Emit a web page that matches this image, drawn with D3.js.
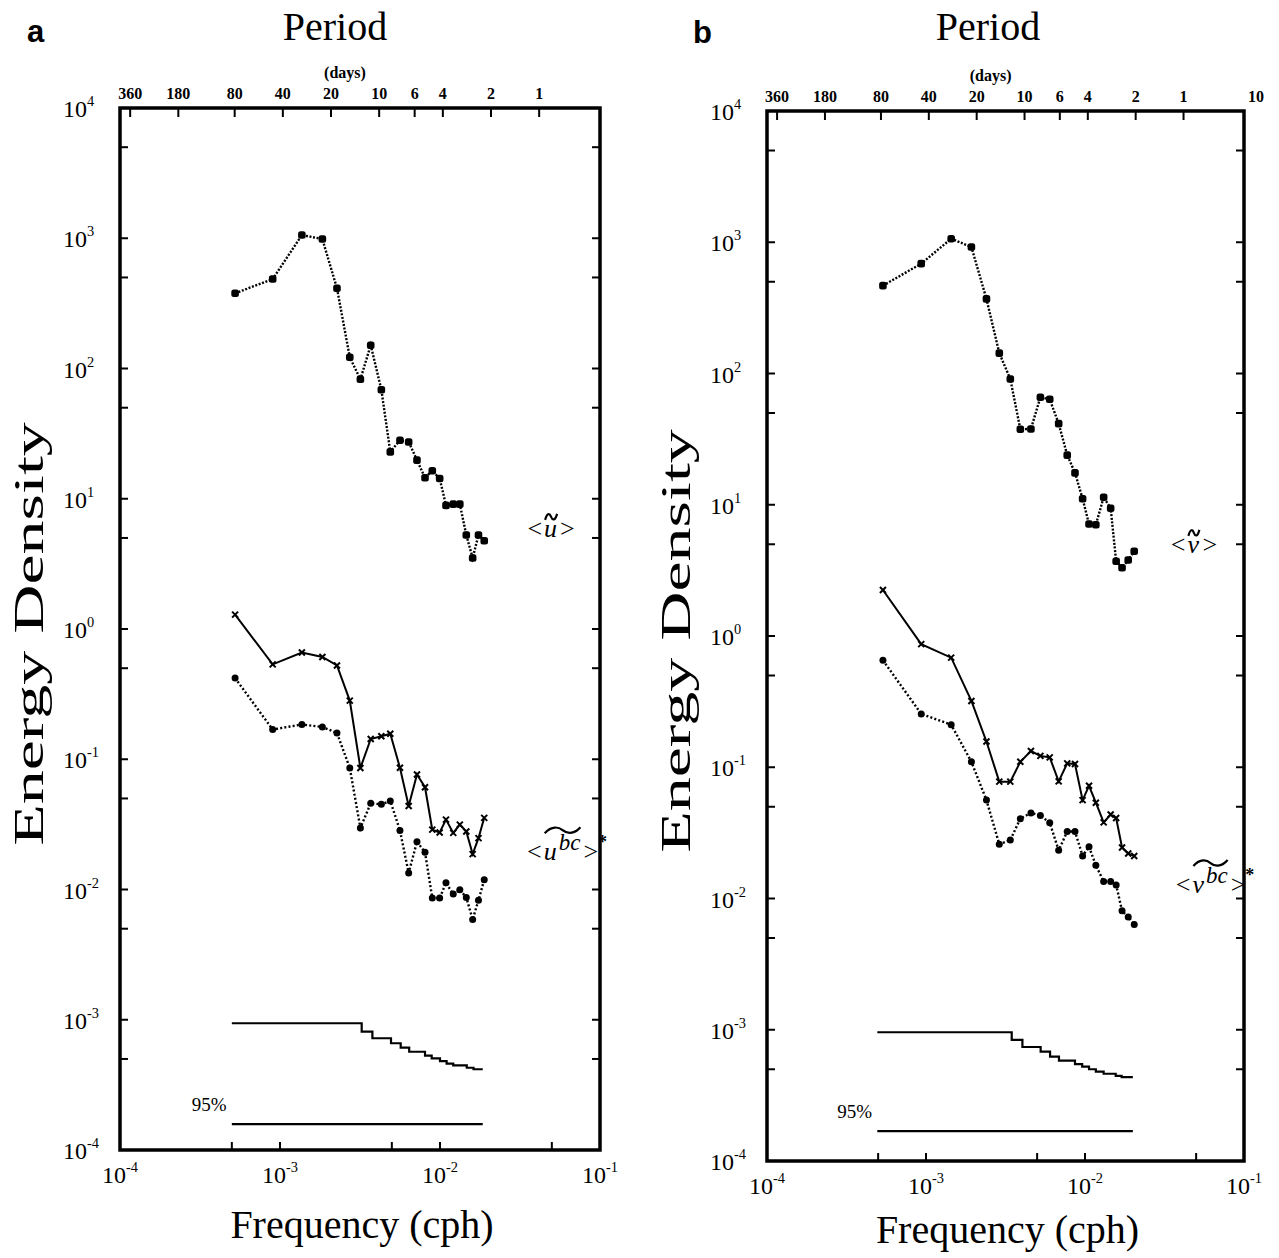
<!DOCTYPE html>
<html>
<head>
<meta charset="utf-8">
<script src="https://cdn.jsdelivr.net/npm/d3@7"></script>
<style>
  body { margin: 0; background: #fff; }
  svg { display: block; }
  text { font-family: "Liberation Serif", "Times New Roman", serif; fill: #000; }
</style>
</head>
<body>
<div id="chart"></div>
<script>
// ---- Panel a data (frequency in cph, energy density) ----
var freqA = [5.24e-4, 9.0e-4, 1.37e-3, 1.84e-3, 2.27e-3, 2.73e-3, 3.18e-3, 3.69e-3, 4.30e-3, 4.89e-3,
             5.62e-3, 6.37e-3, 7.18e-3, 8.06e-3, 8.95e-3, 9.95e-3, 1.09e-2, 1.21e-2, 1.33e-2, 1.46e-2,
             1.60e-2, 1.74e-2, 1.89e-2];
var uMean = [378, 486, 1059, 986, 413, 122, 82.6, 151, 68.7, 22.9,
             28.1, 27.3, 19.8, 14.5, 16.4, 14.3, 8.9, 9.1, 9.1, 5.27,
             3.51, 5.27, 4.76];
var ubcSolid = [1.29, 0.535, 0.66, 0.61, 0.525, 0.282, 0.0857, 0.143, 0.150, 0.157,
                0.0861, 0.0438, 0.0764, 0.061, 0.0288, 0.0274, 0.0344, 0.0272, 0.0315, 0.0279,
                0.0187, 0.0248, 0.0355];
var ubcDotted = [0.42, 0.169, 0.185, 0.177, 0.159, 0.0857, 0.0297, 0.0459, 0.0451, 0.0479,
                 0.0284, 0.0134, 0.0233, 0.0193, 0.00859, 0.00859, 0.01125, 0.00923, 0.00997, 0.00869,
                 0.00589, 0.00828, 0.0119];
var confEdgesA = [5.0e-4, 3.24e-3, 3.78e-3, 4.94e-3, 5.68e-3, 6.42e-3, 8.06e-3, 8.87e-3, 1.0e-2, 1.10e-2,
                  1.21e-2, 1.47e-2, 1.62e-2, 1.85e-2];
var confLevelsA = [9.40e-4, 8.10e-4, 7.21e-4, 6.60e-4, 6.10e-4, 5.68e-4, 5.30e-4, 5.06e-4, 4.82e-4, 4.60e-4,
                   4.47e-4, 4.28e-4, 4.17e-4];
var sig95A = 1.58e-4;

// ---- Panel b data ----
var freqB = [5.36e-4, 9.33e-4, 1.44e-3, 1.93e-3, 2.40e-3, 2.89e-3, 3.39e-3, 3.92e-3, 4.57e-3, 5.24e-3,
             6.00e-3, 6.83e-3, 7.73e-3, 8.65e-3, 9.66e-3, 1.06e-2, 1.17e-2, 1.31e-2, 1.45e-2, 1.57e-2,
             1.71e-2, 1.87e-2, 2.04e-2];
var vMean = [467, 687, 1064, 920, 370, 143, 90.8, 37.6, 37.8, 65.9,
             63.6, 41.5, 23.9, 17.5, 11.1, 7.13, 7.04, 11.4, 9.4, 3.71,
             3.31, 3.79, 4.42];
var vbcSolid = [2.24, 0.867, 0.684, 0.320, 0.157, 0.0777, 0.0777, 0.110, 0.133, 0.122,
                0.119, 0.078, 0.107, 0.106, 0.0562, 0.0722, 0.0537, 0.038, 0.0436, 0.041,
                0.0245, 0.022, 0.0211];
var vbcDotted = [0.653, 0.255, 0.211, 0.110, 0.0562, 0.0259, 0.0279, 0.0406, 0.0449, 0.0428,
                 0.0378, 0.0233, 0.0324, 0.0324, 0.0211, 0.0248, 0.0179, 0.0135, 0.0135, 0.0127,
                 0.00805, 0.00723, 0.00635];
var confEdgesB = [4.94e-4, 3.46e-3, 4.04e-3, 5.26e-3, 6.03e-3, 6.86e-3, 8.65e-3, 9.60e-3, 1.06e-2, 1.17e-2,
                  1.31e-2, 1.56e-2, 1.70e-2, 2.00e-2];
var confLevelsB = [9.57e-4, 8.36e-4, 7.39e-4, 6.81e-4, 6.24e-4, 5.81e-4, 5.48e-4, 5.23e-4, 5.00e-4, 4.79e-4,
                   4.62e-4, 4.46e-4, 4.35e-4];
var sig95B = 1.69e-4;

// ---- Axis ticks ----
var periodDays = [360, 180, 80, 40, 20, 10, 6, 4, 2, 1];
var yDecades = [-4, -3, -2, -1, 0, 1, 2, 3, 4];
var xDecades = [-4, -3, -2, -1];
var xMinorTicks = [5e-4, 1e-3, 5e-3, 1e-2, 5e-2];

var W = 1279, H = 1258;
var svg = d3.select("#chart").append("svg").attr("width", W).attr("height", H);

var panels = [
    {id: "a", left: 120, right: 600, top: 108, bottom: 1150, freq: freqA, mean: uMean, solid: ubcSolid, dotted: ubcDotted,
     edges: confEdgesA, levels: confLevelsA, sig: sig95A, letter: "u", extraTop: false,
     labelX: 27, labelY: 42, titleX: 335, freqY: 1238, meanLab: [0.0352, 5.1], bcLab: [0.0350, 0.0168]},
    {id: "b", left: 767, right: 1244, top: 111, bottom: 1161, freq: freqB, mean: vMean, solid: vbcSolid, dotted: vbcDotted,
     edges: confEdgesB, levels: confLevelsB, sig: sig95B, letter: "ν", extraTop: true,
     labelX: 693, labelY: 43, titleX: 988, freqY: 1243, meanLab: [0.0346, 4.3], bcLab: [0.0372, 0.011]}
];

function supLabel(sel, base, exp, size) {
    sel.append("tspan").text(base);
    sel.append("tspan").attr("dy", -size * 0.45).attr("font-size", size * 0.6).text(exp);
}

function seriesLabel(g, x, y, letter, sup) {
    var fs = 26;
    var lt = g.append("text").attr("x", x).attr("y", y).attr("font-size", fs).text("<");
    var w1 = lt.node().getComputedTextLength();
    var core = g.append("text").attr("x", x + w1 + 2).attr("y", y)
        .attr("font-size", fs).style("font-style", "italic");
    core.append("tspan").text(letter);
    if (sup) core.append("tspan").attr("dx", 2).attr("dy", -10).attr("font-size", 23).text(sup);
    var bb = core.node().getBBox();
    // wide tilde over the core
    var x0 = bb.x + 1, x1 = bb.x + bb.width;
    var ty = sup ? y - 31 : y - 21;
    var wd = x1 - x0;
    g.append("path")
        .attr("d", "M" + x0 + "," + (ty + 4) +
            " C" + (x0 + wd * 0.2) + "," + (ty - 4) + " " + (x0 + wd * 0.4) + "," + (ty - 2) + " " + (x0 + wd * 0.5) + "," + (ty + 1) +
            " C" + (x0 + wd * 0.6) + "," + (ty + 4) + " " + (x0 + wd * 0.8) + "," + (ty + 6) + " " + x1 + "," + (ty - 2))
        .attr("fill", "none").attr("stroke", "#000").attr("stroke-width", 2.2);
    var gt = g.append("text").attr("x", bb.x + bb.width + 3).attr("y", y).attr("font-size", fs).text(">");
    if (sup) {
        var w2 = gt.node().getComputedTextLength();
        g.append("text").attr("x", bb.x + bb.width + 3 + w2).attr("y", y - 12)
            .attr("font-size", 18).attr("font-weight", "bold").text("*");
    }
}

panels.forEach(function(p) {
    var g = svg.append("g");
    var x = d3.scaleLog().domain([1e-4, 1e-1]).range([p.left, p.right]);
    var y = d3.scaleLog().domain([1e-4, 1e4]).range([p.bottom, p.top]);

    // Frame
    g.append("rect").attr("x", p.left).attr("y", p.top)
        .attr("width", p.right - p.left).attr("height", p.bottom - p.top)
        .attr("fill", "none").attr("stroke", "#000").attr("stroke-width", 3.5);

    // Left / right ticks (1 and 5 times each decade)
    var yTicks = [];
    yDecades.forEach(function(d) {
        if (d > -4 && d < 4) yTicks.push(Math.pow(10, d));
        if (d < 4) yTicks.push(5 * Math.pow(10, d));
    });
    yTicks.forEach(function(v) {
        g.append("line").attr("x1", p.left).attr("x2", p.left + 8).attr("y1", y(v)).attr("y2", y(v))
            .attr("stroke", "#000").attr("stroke-width", 2);
        g.append("line").attr("x1", p.right - 8).attr("x2", p.right).attr("y1", y(v)).attr("y2", y(v))
            .attr("stroke", "#000").attr("stroke-width", 2);
    });
    // Bottom ticks
    xMinorTicks.forEach(function(v) {
        g.append("line").attr("x1", x(v)).attr("x2", x(v)).attr("y1", p.bottom).attr("y2", p.bottom - 8)
            .attr("stroke", "#000").attr("stroke-width", 2);
    });
    // Top period ticks
    periodDays.forEach(function(dd) {
        var f = 1 / (dd * 24);
        g.append("line").attr("x1", x(f)).attr("x2", x(f)).attr("y1", p.top).attr("y2", p.top + 9)
            .attr("stroke", "#000").attr("stroke-width", 2);
        g.append("text").attr("x", x(f)).attr("y", p.top - 9).attr("text-anchor", "middle")
            .attr("font-size", 16).attr("font-weight", "bold").text(dd);
    });
    if (p.extraTop) {
        g.append("text").attr("x", x(0.1) + 12).attr("y", p.top - 9).attr("text-anchor", "middle")
            .attr("font-size", 16).attr("font-weight", "bold").text("10");
    }
    g.append("text").attr("x", x(1 / (20 * 24)) + 14).attr("y", p.top - 30).attr("text-anchor", "middle")
        .attr("font-size", 16).attr("font-weight", "bold").text("(days)");
    g.append("text").attr("x", p.titleX).attr("y", 40).attr("text-anchor", "middle")
        .attr("font-size", 40).text("Period");

    // Left tick labels
    yDecades.forEach(function(d) {
        var t = g.append("text").attr("x", p.left - 57).attr("y", y(Math.pow(10, d)) + 9)
            .attr("font-size", 24);
        supLabel(t, "10", String(d), 24);
    });
    // Bottom tick labels
    xDecades.forEach(function(d) {
        var t = g.append("text").attr("x", x(Math.pow(10, d))).attr("y", p.bottom + 33)
            .attr("text-anchor", "middle").attr("font-size", 24);
        supLabel(t, "10", String(d), 24);
    });

    // Axis titles (rotated title is stretched along its length, as in the figure)
    g.append("text").attr("transform", "translate(" + (p.left - 77) + "," + ((p.top + p.bottom) / 2 + 5) + ") rotate(-90) scale(1.62,1)")
        .attr("text-anchor", "middle").attr("font-size", 42).text("Energy Density");
    g.append("text").attr("x", (p.left + p.right) / 2 + 2).attr("y", p.freqY)
        .attr("text-anchor", "middle").attr("font-size", 40).text("Frequency (cph)");
    g.append("text").attr("x", p.labelX).attr("y", p.labelY)
        .style("font-family", "'Liberation Sans', Arial, sans-serif")
        .attr("font-size", 31).attr("font-weight", "bold").text(p.id);

    // Confidence step line
    var stepPts = p.levels.map(function(v, i) { return [p.edges[i], v]; });
    stepPts.push([p.edges[p.edges.length - 1], p.levels[p.levels.length - 1]]);
    var stepLine = d3.line().x(function(d) { return x(d[0]); }).y(function(d) { return y(d[1]); })
        .curve(d3.curveStepAfter);
    g.append("path").attr("d", stepLine(stepPts)).attr("fill", "none")
        .attr("stroke", "#000").attr("stroke-width", 2.2);
    // 95% line
    g.append("line").attr("x1", x(p.edges[0])).attr("x2", x(p.edges[p.edges.length - 1]))
        .attr("y1", y(p.sig)).attr("y2", y(p.sig)).attr("stroke", "#000").attr("stroke-width", 2.2);
    g.append("text").attr("x", x(p.edges[0]) - 40).attr("y", y(p.sig) - 13)
        .attr("font-size", 19).text("95%");

    var line = d3.line().x(function(d) { return x(d[0]); }).y(function(d) { return y(d[1]); });

    function series(vals, dash, marker) {
        var pts = vals.map(function(v, i) { return [p.freq[i], v]; });
        g.append("path").attr("d", line(pts)).attr("fill", "none").attr("stroke", "#000")
            .attr("stroke-width", dash ? 2.4 : 2).attr("stroke-dasharray", dash);
        pts.forEach(function(d) {
            var cx = x(d[0]), cy = y(d[1]);
            if (marker === "dot") {
                g.append("rect").attr("x", cx - 3.8).attr("y", cy - 3.8).attr("width", 7.6).attr("height", 7.6)
                    .attr("rx", 2.5).attr("fill", "#000");
            } else if (marker === "smalldot") {
                g.append("circle").attr("cx", cx).attr("cy", cy).attr("r", 3.5).attr("fill", "#000");
            } else {
                g.append("path").attr("d", "M" + (cx - 3) + "," + (cy - 3) + "L" + (cx + 3) + "," + (cy + 3) +
                    "M" + (cx - 3) + "," + (cy + 3) + "L" + (cx + 3) + "," + (cy - 3))
                    .attr("stroke", "#000").attr("stroke-width", 2);
            }
        });
    }
    series(p.mean, "2,1.6", "dot");
    series(p.solid, null, "cross");
    series(p.dotted, "2,2.2", "smalldot");

    // Series labels
    seriesLabel(g, x(p.meanLab[0]), y(p.meanLab[1]), p.letter, null);
    seriesLabel(g, x(p.bcLab[0]), y(p.bcLab[1]), p.letter, "bc");
});
</script>
</body>
</html>
